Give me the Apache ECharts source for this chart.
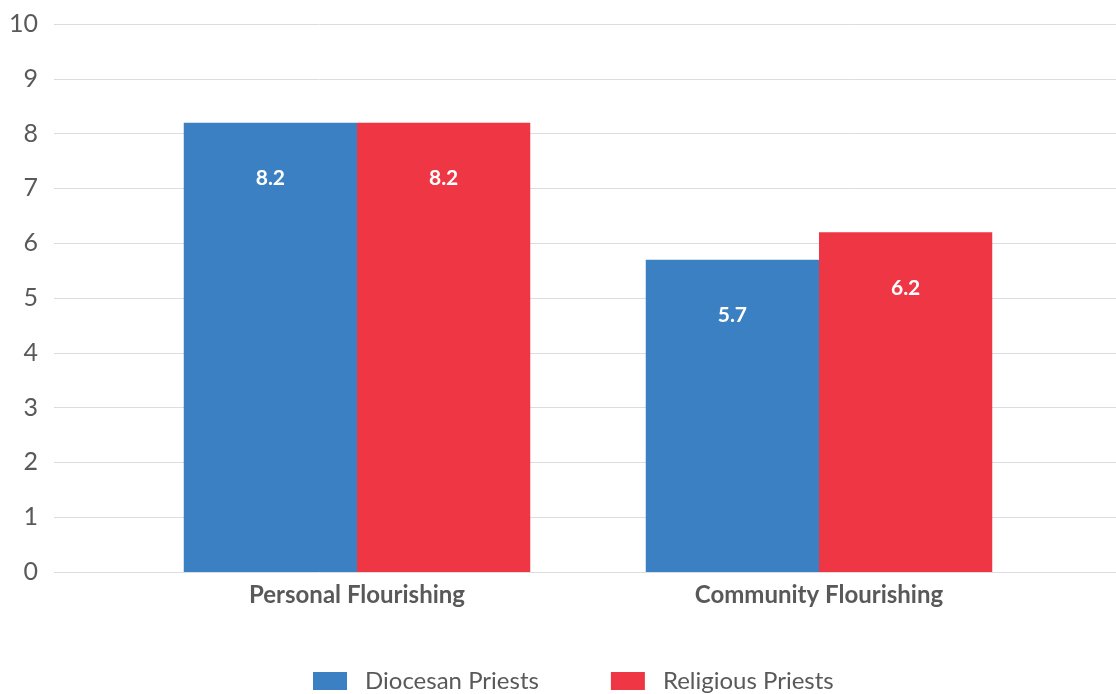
<!DOCTYPE html>
<html>
<head>
<meta charset="utf-8">
<style>
  html, body { margin: 0; padding: 0; background: #ffffff; }
  #chart { width: 1116px; height: 694px; }
</style>
<script src="https://cdn.jsdelivr.net/npm/echarts@6/dist/echarts.min.js"></script>
</head>
<body>
<div id="chart"></div>
<script>
// Flourishing scores by priest type
const categories = ['Personal Flourishing', 'Community Flourishing'];
const seriesNames = ['Diocesan Priests', 'Religious Priests'];
const diocesanValues = [8.2, 5.7];
const religiousValues = [8.2, 6.2];
const yTicks = [0, 1, 2, 3, 4, 5, 6, 7, 8, 9, 10];

const colors = ['#3b80c3', '#ef3645'];
const textColor = '#595959';
const gridColor = '#dcdce3';
const fontFamily = 'Lato, "Open Sans", sans-serif';

const chart = echarts.init(document.getElementById('chart'), null, { renderer: 'canvas' });

const yMin = yTicks[0];
const yMax = yTicks[yTicks.length - 1];
const yStep = yTicks[1] - yTicks[0];

const barLabel = {
  show: true,
  position: 'insideTop',
  distance: 45,
  color: '#ffffff',
  fontFamily: fontFamily,
  fontWeight: 'bold',
  fontSize: 21,
  formatter: p => p.value.toFixed(1)
};

chart.setOption({
  animation: false,
  backgroundColor: '#ffffff',
  textStyle: { fontFamily: fontFamily },
  grid: [
    // full-width grid carrying the value axis labels and gridlines
    { left: 54, right: 0, top: 24, bottom: 122, containLabel: false },
    // inner grid holding the bars
    { left: 126, right: 66, top: 24, bottom: 122, containLabel: false }
  ],
  xAxis: [
    { gridIndex: 0, type: 'value', min: 0, max: 1, show: false },
    {
      gridIndex: 1,
      type: 'category',
      data: categories,
      axisLine: { show: false },
      axisTick: { show: false },
      axisLabel: {
        color: textColor,
        fontFamily: fontFamily,
        fontWeight: 'bold',
        fontSize: 24,
        margin: 11
      }
    }
  ],
  yAxis: [
    {
      gridIndex: 0,
      type: 'value',
      min: yMin,
      max: yMax,
      interval: yStep,
      axisLine: { show: false },
      axisTick: { show: false },
      axisLabel: {
        color: textColor,
        fontFamily: fontFamily,
        fontSize: 25,
        margin: 16
      },
      splitLine: { show: true, lineStyle: { color: gridColor, width: 1 } }
    },
    {
      gridIndex: 1,
      type: 'value',
      min: yMin,
      max: yMax,
      interval: yStep,
      show: false,
      splitLine: { show: false }
    }
  ],
  legend: {
    bottom: 0,
    left: 308,
    padding: [5, 5, 1, 5],
    icon: 'rect',
    itemWidth: 34,
    itemHeight: 18,
    itemGap: 72,
    textStyle: { color: textColor, fontFamily: fontFamily, fontSize: 24, padding: [0, 0, 0, 13] },
    data: seriesNames
  },
  series: [
    {
      name: seriesNames[0],
      type: 'bar',
      xAxisIndex: 1,
      yAxisIndex: 1,
      data: diocesanValues,
      barWidth: '37.5%',
      barGap: '0%',
      itemStyle: { color: colors[0] },
      label: barLabel
    },
    {
      name: seriesNames[1],
      type: 'bar',
      xAxisIndex: 1,
      yAxisIndex: 1,
      data: religiousValues,
      barWidth: '37.5%',
      barGap: '0%',
      itemStyle: { color: colors[1] },
      label: barLabel
    }
  ]
});
</script>
</body>
</html>
